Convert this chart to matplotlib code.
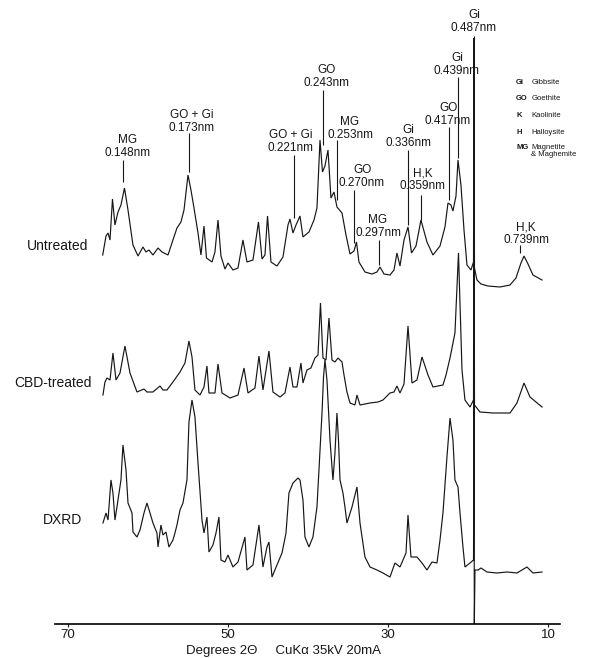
import matplotlib.pyplot as plt

plt.rcParams['font.family'] = ['Liberation Sans', 'DejaVu Sans']

# traces: degrees 2-theta and intensity (arbitrary units)
untreated_2theta = [65.66, 65.25, 65.0, 64.75, 64.44, 64.13, 63.75, 63.38, 62.94, 62.5,
                    61.88, 61.25, 60.63, 60.25, 59.88, 59.38, 58.75, 58.25, 57.5, 56.88,
                    56.38, 55.88, 55.5, 55.0, 54.63, 54.25, 53.75, 53.38, 53.0, 52.69,
                    52.0, 51.63, 51.25, 50.88, 50.38, 50.0, 49.38, 48.75, 48.13, 47.63,
                    46.88, 46.19, 45.75, 45.38, 45.06, 44.63, 43.88, 43.13, 42.5, 42.25,
                    41.88, 41.5, 41.0, 40.63, 39.88, 39.25, 38.88, 38.5, 38.19, 37.88,
                    37.5, 37.13, 36.75, 36.38, 35.75, 35.25, 34.75, 34.25, 33.94, 33.63,
                    32.88, 32.0, 31.38, 31.0, 30.5, 29.75, 29.25, 28.88, 28.5, 28.0,
                    27.5, 27.06, 26.5, 25.88, 25.13, 24.38, 23.5, 22.88, 22.5, 22.13,
                    21.88, 21.5, 21.25, 20.88, 20.5, 20.13, 19.63, 19.31, 19.25, 19.19,
                    18.88, 18.38, 17.5, 16.0, 14.75, 14.0, 13.38, 13.0, 12.5, 11.88, 10.75]
untreated_counts = [35, 54, 57, 50, 91, 65, 78, 85, 102, 80,
                    45, 34, 43, 38, 40, 35, 42, 38, 35, 50,
                    62, 68, 80, 115, 100, 82, 57, 35, 64, 32,
                    28, 38, 70, 34, 21, 27, 20, 22, 50, 28,
                    30, 68, 31, 35, 74, 28, 24, 33, 65, 71,
                    57, 65, 74, 53, 58, 70, 82, 150, 118, 124,
                    140, 92, 98, 83, 77, 55, 36, 39, 48, 28,
                    18, 16, 18, 23, 16, 15, 20, 37, 24, 50,
                    63, 37, 44, 70, 48, 35, 44, 63, 87, 85,
                    79, 94, 130, 105, 60, 25, 20, 28, 252, 22,
                    10, 6, 4, 3, 5, 12, 27, 34, 26, 15, 10]

cbd_2theta = [65.63, 65.38, 65.13, 64.75, 64.38, 64.0, 63.5, 62.88, 62.25, 61.38,
              60.5, 60.13, 59.38, 58.5, 58.13, 57.63, 56.88, 56.0, 55.38, 54.88,
              54.5, 54.13, 53.5, 53.0, 52.63, 52.38, 51.63, 51.25, 50.75, 49.75,
              48.75, 48.0, 47.5, 46.63, 46.13, 45.63, 44.88, 44.38, 43.5, 42.88,
              42.25, 41.88, 41.38, 40.88, 40.63, 40.13, 39.63, 39.13, 38.75, 38.44,
              38.13, 37.75, 37.38, 37.0, 36.63, 36.25, 35.75, 35.5, 35.13, 34.75,
              34.13, 33.88, 33.5, 32.25, 31.25, 30.63, 29.75, 29.25, 28.88, 28.5,
              28.0, 27.5, 27.0, 26.38, 25.75, 25.0, 24.38, 23.13, 22.75, 22.25,
              21.63, 21.19, 20.75, 20.38, 19.75, 19.31, 19.25, 19.19, 18.5, 16.88,
              14.75, 13.88, 13.0, 12.25, 10.75]
cbd_counts = [20, 33, 37, 35, 62, 35, 42, 69, 42, 23,
              26, 23, 23, 29, 25, 25, 33, 43, 52, 74,
              58, 25, 20, 28, 49, 22, 22, 51, 22, 17,
              20, 47, 22, 27, 59, 25, 64, 23, 18, 22,
              48, 28, 28, 52, 32, 45, 47, 57, 60, 112,
              57, 55, 97, 55, 53, 57, 53, 40, 23, 12,
              10, 20, 10, 12, 13, 15, 22, 23, 29, 22,
              31, 89, 32, 35, 58, 40, 28, 30, 40, 57,
              82, 162, 45, 15, 8, 15, 375, 10, 3, 2,
              2, 12, 32, 18, 8]

dxrd_2theta = [65.63, 65.25, 65.0, 64.63, 64.38, 64.13, 63.88, 63.38, 63.13, 62.75,
               62.5, 62.0, 61.88, 61.38, 61.0, 60.5, 60.13, 59.75, 59.38, 58.88,
               58.75, 58.38, 58.13, 57.75, 57.38, 56.88, 56.63, 56.38, 56.0, 55.63,
               55.13, 54.88, 54.5, 54.13, 53.75, 53.25, 53.0, 52.63, 52.38, 51.88,
               51.5, 51.13, 50.88, 50.38, 50.0, 49.38, 48.75, 47.88, 47.63, 46.88,
               46.13, 45.63, 45.13, 44.88, 44.5, 43.88, 43.25, 42.75, 42.38, 41.88,
               41.25, 41.0, 40.63, 40.38, 39.88, 39.38, 38.88, 38.63, 38.25, 38.06,
               37.88, 37.63, 37.25, 36.88, 36.63, 36.38, 36.19, 36.0, 35.63, 35.38,
               35.13, 34.5, 33.88, 33.5, 32.88, 32.25, 31.38, 30.63, 29.75, 29.13,
               28.5, 27.75, 27.5, 27.13, 26.38, 25.75, 25.13, 24.5, 23.88, 23.5,
               23.13, 22.63, 22.25, 21.88, 21.63, 21.25, 21.0, 20.63, 20.38, 19.75,
               19.31, 19.25, 19.21, 19.13, 18.75, 18.38, 17.63, 16.38, 15.13, 13.88,
               12.63, 11.88, 10.75]
dxrd_counts = [57, 67, 60, 100, 87, 60, 73, 100, 135, 110,
               77, 67, 48, 43, 50, 67, 77, 67, 57, 47,
               33, 55, 45, 48, 33, 40, 47, 55, 70, 77,
               100, 158, 180, 163, 117, 60, 47, 63, 28, 35,
               47, 63, 20, 18, 25, 13, 18, 43, 10, 15,
               55, 13, 33, 38, 3, 15, 27, 47, 87, 97,
               102, 100, 80, 43, 33, 43, 73, 110, 167, 203,
               220, 200, 140, 100, 127, 167, 140, 100, 87, 73,
               57, 73, 93, 57, 23, 13, 10, 7, 3, 17,
               13, 27, 65, 23, 23, 17, 10, 18, 17, 40,
               67, 123, 162, 140, 100, 93, 67, 33, 13, 17,
               20, 180, -44, 10, 10, 12, 8, 7, 8, 7,
               13, 7, 8]

sample_names = ['Untreated', 'CBD-treated', 'DXRD']
sample_offsets = [334, 209, 44]

# peak labels: mineral, d-spacing, 2-theta of the marker, label x, label top, marker top/bottom
peak_mineral = ['MG', 'GO + Gi', 'GO + Gi', 'GO', 'MG', 'GO', 'MG', 'Gi', 'H,K', 'GO', 'Gi', 'Gi', 'H,K']
peak_d = ['0.148nm', '0.173nm', '0.221nm', '0.243nm', '0.253nm', '0.270nm', '0.297nm',
          '0.336nm', '0.359nm', '0.417nm', '0.439nm', '0.487nm', '0.739nm']
peak_2theta = [63.13, 54.88, 41.75, 38.13, 36.38, 34.25, 31.13, 27.5, 25.88, 22.38, 21.25, 19.25, 13.5]
label_2theta = [62.5, 54.5, 42.13, 37.63, 34.75, 33.25, 31.25, 27.5, 25.63, 22.5, 21.38, 19.25, 12.75]
label_top = [484, 509, 489, 554, 502, 454, 404, 494, 451, 516, 566, 609, 397]
marker_top = [464, 491, 469, 534, 484, 434, 384, 474, 429, 497, 547, 588, 379]
marker_bottom = [442, 452, 406, 479, 424, 381, 359, 399, 404, 424, 466, 584, 371]

key_abbr = ['Gi', 'GO', 'K', 'H', 'MG']
key_names = ['Gibbsite', 'Goethite', 'Kaolinite', 'Halloysite', 'Magnetite\n& Maghemite']

ink = '#161616'

fig = plt.figure(figsize=(5.92, 6.58), dpi=100)
ax = fig.add_axes([0, 34 / 658, 1, 624 / 658])
ax.set_xlim(78.5, 4.5)
ax.set_ylim(0, 624)

traces = [(untreated_2theta, untreated_counts), (cbd_2theta, cbd_counts), (dxrd_2theta, dxrd_counts)]
label_pos = [(71.25, 378), (71.88, 241), (70.75, 104)]
for (tt, cc), off, name, (lx, ly) in zip(traces, sample_offsets, sample_names, label_pos):
    ax.plot(tt, [c + off for c in cc], color=ink, lw=0.85, solid_joinstyle='miter')
    ax.text(lx, ly, name, ha='center', va='center', fontsize=10, color=ink)

ax.vlines(peak_2theta, marker_bottom, marker_top, color=ink, lw=0.8)
for m, d, x, y in zip(peak_mineral, peak_d, label_2theta, label_top):
    ax.text(x, y, m, ha='center', va='center', fontsize=8.5, color=ink)
    ax.text(x, y - 13, d, ha='center', va='center', fontsize=8.5, color=ink)

# mineral key, top right
key_y = [545, 529, 512, 495, 480]
for a, n, y in zip(key_abbr, key_names, key_y):
    ax.text(14.0, y, a, ha='left', va='top', fontsize=5.5, fontweight='bold', color=ink)
    ax.text(12.1, y, n, ha='left', va='top', fontsize=5.5, color=ink, linespacing=1.0)

for s in ['top', 'right', 'left']:
    ax.spines[s].set_visible(False)
ax.spines['bottom'].set_bounds(71.6, 8.5)
ax.spines['bottom'].set_linewidth(1.2)
ax.set_yticks([])
ax.set_xticks([70, 50, 30, 10])
ax.tick_params(axis='x', length=2, width=0.8, pad=1.5, labelsize=9.5, colors=ink)
ax.set_xlabel('Degrees 2\u0398     CuK\u03b1 35kV 20mA', fontsize=9.5, color=ink)
ax.xaxis.set_label_coords(283 / 592, -0.033)

fig.savefig('out.png', dpi=100)
